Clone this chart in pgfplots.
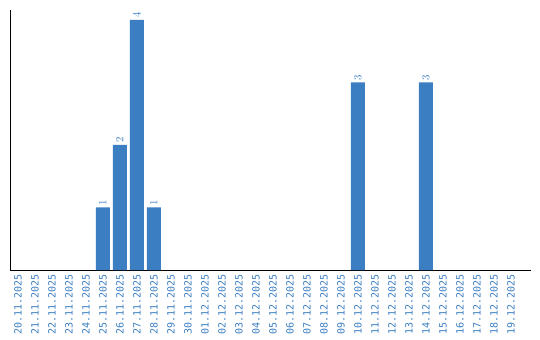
\documentclass[border=0pt]{standalone}
\usepackage{pgfplots}
\pgfplotsset{compat=1.18}
\usepackage{fontspec}
\newfontfamily\monofont{DejaVu Sans Mono}
\definecolor{barblue}{HTML}{3B7EC2}
\begin{document}
\begin{tikzpicture}
\path[use as bounding box] (-10bp,-70bp) rectangle (530bp,270bp);
\begin{axis}[
  at={(0,0)}, anchor=south west,
  scale only axis,
  width=521bp, height=260bp,
  xmin=-0.47, xmax=30.18,
  ymin=0, ymax=4.16,
  axis lines*=left,
  axis line style={black, line width=1bp, -},
  xtick={0,...,29},
  xticklabels={20.11.2025,21.11.2025,22.11.2025,23.11.2025,24.11.2025,25.11.2025,26.11.2025,27.11.2025,28.11.2025,29.11.2025,30.11.2025,01.12.2025,02.12.2025,03.12.2025,04.12.2025,05.12.2025,06.12.2025,07.12.2025,08.12.2025,09.12.2025,10.12.2025,11.12.2025,12.12.2025,13.12.2025,14.12.2025,15.12.2025,16.12.2025,17.12.2025,18.12.2025,19.12.2025},
  xticklabel style={rotate=90, anchor=east, font=\monofont\fontsize{10bp}{11bp}\selectfont, text=barblue, inner sep=4.5bp},
  ytick=\empty,
  major tick length=0pt,
  ybar, bar width=14bp,
  nodes near coords,
  nodes near coords style={rotate=90, anchor=west, font=\monofont\fontsize{10.5bp}{11bp}\selectfont, text=barblue, inner sep=2bp},
  clip=false,
]
\addplot[fill=barblue, draw=none, bar shift=0pt] coordinates {(5,1) (6,2) (7,4) (8,1) (20,3) (24,3)};
\end{axis}
\end{tikzpicture}
\end{document}
